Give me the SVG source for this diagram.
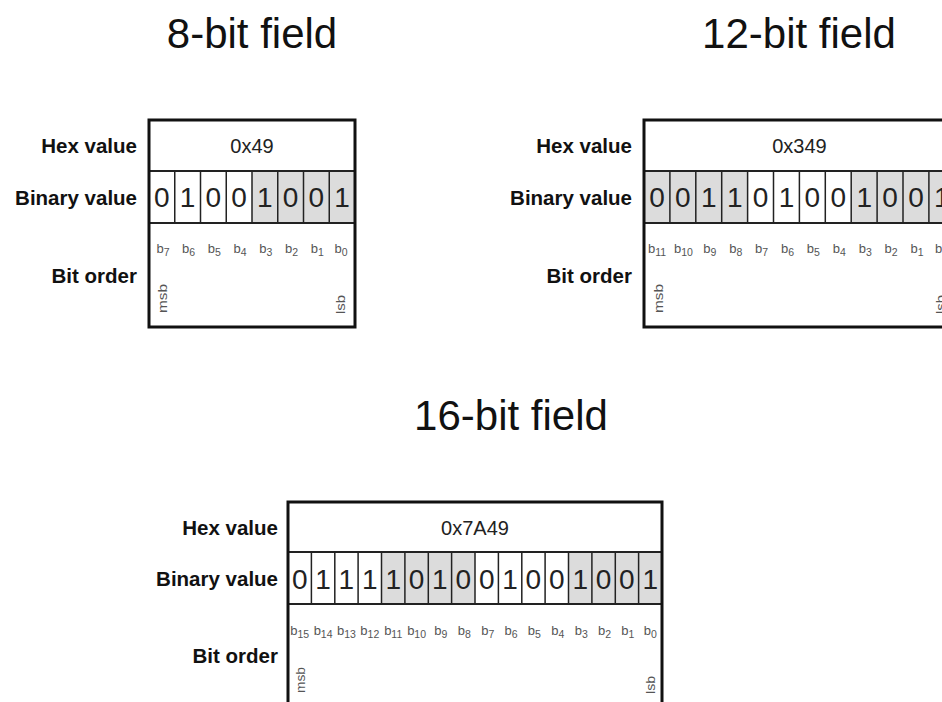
<svg xmlns="http://www.w3.org/2000/svg" width="942" height="702" viewBox="0 0 942 702">
<style>
text{font-family:"Liberation Sans",Arial,sans-serif;fill:#111}
.title{font-size:42px;text-anchor:middle}
.lbl{font-size:20.5px;font-weight:bold;text-anchor:end}
.hex{font-size:20px;text-anchor:middle;fill:#222}
.bit{font-size:28px;text-anchor:middle;fill:#222}
.bo{font-size:13px;text-anchor:middle;fill:#555}
.sub{font-size:10.5px}
.ms{font-size:12px;fill:#555}
.sh{fill:#dcdcdc}
.div{stroke:#222;stroke-width:1.5;fill:none}
.hl{stroke:#222;stroke-width:2;fill:none}
.frame{fill:none;stroke:#111;stroke-width:3}
</style>
<rect width="942" height="702" fill="#fff"/>

<g id="field8">
<text class="title" x="252" y="48">8-bit field</text>
<text class="lbl" x="137" y="153">Hex value</text>
<text class="lbl" x="137" y="205">Binary value</text>
<text class="lbl" x="137" y="283">Bit order</text>
<rect class="sh" x="252" y="171" width="103" height="52"/>
<line class="hl" x1="149" y1="171" x2="355" y2="171"/>
<line class="hl" x1="149" y1="223" x2="355" y2="223"/>
<path class="div" d="M174.75 171V223M200.5 171V223M226.25 171V223M252 171V223M277.75 171V223M303.5 171V223M329.25 171V223"/>
<rect class="frame" x="149" y="120" width="206" height="207"/>
<text class="hex" x="252" y="153">0x49</text>
<text class="bit" y="207"><tspan x="161.9">0</tspan><tspan x="187.6">1</tspan><tspan x="213.4">0</tspan><tspan x="239.1">0</tspan><tspan x="264.9">1</tspan><tspan x="290.6">0</tspan><tspan x="316.4">0</tspan><tspan x="342.1">1</tspan></text>
<text class="bo" x="163" y="253">b<tspan class="sub" dy="3">7</tspan></text>
<text class="bo" x="188.6" y="253">b<tspan class="sub" dy="3">6</tspan></text>
<text class="bo" x="214.4" y="253">b<tspan class="sub" dy="3">5</tspan></text>
<text class="bo" x="240.1" y="253">b<tspan class="sub" dy="3">4</tspan></text>
<text class="bo" x="265.9" y="253">b<tspan class="sub" dy="3">3</tspan></text>
<text class="bo" x="291.6" y="253">b<tspan class="sub" dy="3">2</tspan></text>
<text class="bo" x="317.4" y="253">b<tspan class="sub" dy="3">1</tspan></text>
<text class="bo" x="341" y="253">b<tspan class="sub" dy="3">0</tspan></text>
<text class="ms" transform="translate(167,313) rotate(-90)" textLength="29" lengthAdjust="spacingAndGlyphs">msb</text>
<text class="ms" transform="translate(345,314) rotate(-90)" textLength="19" lengthAdjust="spacingAndGlyphs">lsb</text>
</g>

<g id="field12">
<text class="title" x="799" y="48">12-bit field</text>
<text class="lbl" x="632" y="153">Hex value</text>
<text class="lbl" x="632" y="205">Binary value</text>
<text class="lbl" x="632" y="283">Bit order</text>
<rect class="sh" x="644" y="171" width="103.6" height="52"/>
<rect class="sh" x="851.2" y="171" width="103.6" height="52"/>
<line class="hl" x1="644" y1="171" x2="954.8" y2="171"/>
<line class="hl" x1="644" y1="223" x2="954.8" y2="223"/>
<path class="div" d="M669.9 171V223M695.8 171V223M721.7 171V223M747.6 171V223M773.5 171V223M799.4 171V223M825.3 171V223M851.2 171V223M877.1 171V223M903 171V223M928.9 171V223"/>
<rect class="frame" x="644" y="120" width="310.8" height="207"/>
<text class="hex" x="799.4" y="153">0x349</text>
<text class="bit" y="207"><tspan x="657">0</tspan><tspan x="682.9">0</tspan><tspan x="708.8">1</tspan><tspan x="734.7">1</tspan><tspan x="760.6">0</tspan><tspan x="786.5">1</tspan><tspan x="812.4">0</tspan><tspan x="838.3">0</tspan><tspan x="864.2">1</tspan><tspan x="890.1">0</tspan><tspan x="916">0</tspan><tspan x="941.9">1</tspan></text>
<text class="bo" x="657" y="253">b<tspan class="sub" dy="3">11</tspan></text>
<text class="bo" x="683.5" y="253">b<tspan class="sub" dy="3">10</tspan></text>
<text class="bo" x="709.8" y="253">b<tspan class="sub" dy="3">9</tspan></text>
<text class="bo" x="735.7" y="253">b<tspan class="sub" dy="3">8</tspan></text>
<text class="bo" x="761.6" y="253">b<tspan class="sub" dy="3">7</tspan></text>
<text class="bo" x="787.5" y="253">b<tspan class="sub" dy="3">6</tspan></text>
<text class="bo" x="813.4" y="253">b<tspan class="sub" dy="3">5</tspan></text>
<text class="bo" x="839.3" y="253">b<tspan class="sub" dy="3">4</tspan></text>
<text class="bo" x="865.2" y="253">b<tspan class="sub" dy="3">3</tspan></text>
<text class="bo" x="891.1" y="253">b<tspan class="sub" dy="3">2</tspan></text>
<text class="bo" x="917" y="253">b<tspan class="sub" dy="3">1</tspan></text>
<text class="bo" x="941.5" y="253">b<tspan class="sub" dy="3">0</tspan></text>
<text class="ms" transform="translate(663,313) rotate(-90)" textLength="29" lengthAdjust="spacingAndGlyphs">msb</text>
<text class="ms" transform="translate(944.8,314) rotate(-90)" textLength="19" lengthAdjust="spacingAndGlyphs">lsb</text>
</g>

<g id="field16">
<text class="title" x="511" y="430">16-bit field</text>
<text class="lbl" x="278" y="535">Hex value</text>
<text class="lbl" x="278" y="586">Binary value</text>
<text class="lbl" x="278" y="663">Bit order</text>
<rect class="sh" x="381.5" y="552" width="93.5" height="52"/>
<rect class="sh" x="568.5" y="552" width="93.5" height="52"/>
<line class="hl" x1="288" y1="552" x2="662" y2="552"/>
<line class="hl" x1="288" y1="604" x2="662" y2="604"/>
<path class="div" d="M311.4 552V604M334.8 552V604M358.1 552V604M381.5 552V604M404.9 552V604M428.3 552V604M451.6 552V604M475 552V604M498.4 552V604M521.8 552V604M545.1 552V604M568.5 552V604M591.9 552V604M615.3 552V604M638.6 552V604"/>
<rect class="frame" x="288" y="502" width="374" height="208"/>
<text class="hex" x="475" y="535">0x7A49</text>
<text class="bit" y="589"><tspan x="299.7">0</tspan><tspan x="323.1">1</tspan><tspan x="346.4">1</tspan><tspan x="369.8">1</tspan><tspan x="393.2">1</tspan><tspan x="416.6">0</tspan><tspan x="439.9">1</tspan><tspan x="463.3">0</tspan><tspan x="486.7">0</tspan><tspan x="510.1">1</tspan><tspan x="533.4">0</tspan><tspan x="556.8">0</tspan><tspan x="580.2">1</tspan><tspan x="603.6">0</tspan><tspan x="626.9">0</tspan><tspan x="650.3">1</tspan></text>
<text class="bo" x="299.7" y="635">b<tspan class="sub" dy="3">15</tspan></text>
<text class="bo" x="323.1" y="635">b<tspan class="sub" dy="3">14</tspan></text>
<text class="bo" x="346.4" y="635">b<tspan class="sub" dy="3">13</tspan></text>
<text class="bo" x="369.8" y="635">b<tspan class="sub" dy="3">12</tspan></text>
<text class="bo" x="393.2" y="635">b<tspan class="sub" dy="3">11</tspan></text>
<text class="bo" x="416.6" y="635">b<tspan class="sub" dy="3">10</tspan></text>
<text class="bo" x="440.9" y="635">b<tspan class="sub" dy="3">9</tspan></text>
<text class="bo" x="464.3" y="635">b<tspan class="sub" dy="3">8</tspan></text>
<text class="bo" x="487.7" y="635">b<tspan class="sub" dy="3">7</tspan></text>
<text class="bo" x="511.1" y="635">b<tspan class="sub" dy="3">6</tspan></text>
<text class="bo" x="534.4" y="635">b<tspan class="sub" dy="3">5</tspan></text>
<text class="bo" x="557.8" y="635">b<tspan class="sub" dy="3">4</tspan></text>
<text class="bo" x="581.2" y="635">b<tspan class="sub" dy="3">3</tspan></text>
<text class="bo" x="604.6" y="635">b<tspan class="sub" dy="3">2</tspan></text>
<text class="bo" x="627.9" y="635">b<tspan class="sub" dy="3">1</tspan></text>
<text class="bo" x="650.3" y="635">b<tspan class="sub" dy="3">0</tspan></text>
<text class="ms" transform="translate(305,693) rotate(-90)" textLength="26" lengthAdjust="spacingAndGlyphs">msb</text>
<text class="ms" transform="translate(655,694) rotate(-90)" textLength="18" lengthAdjust="spacingAndGlyphs">lsb</text>
</g>
</svg>
